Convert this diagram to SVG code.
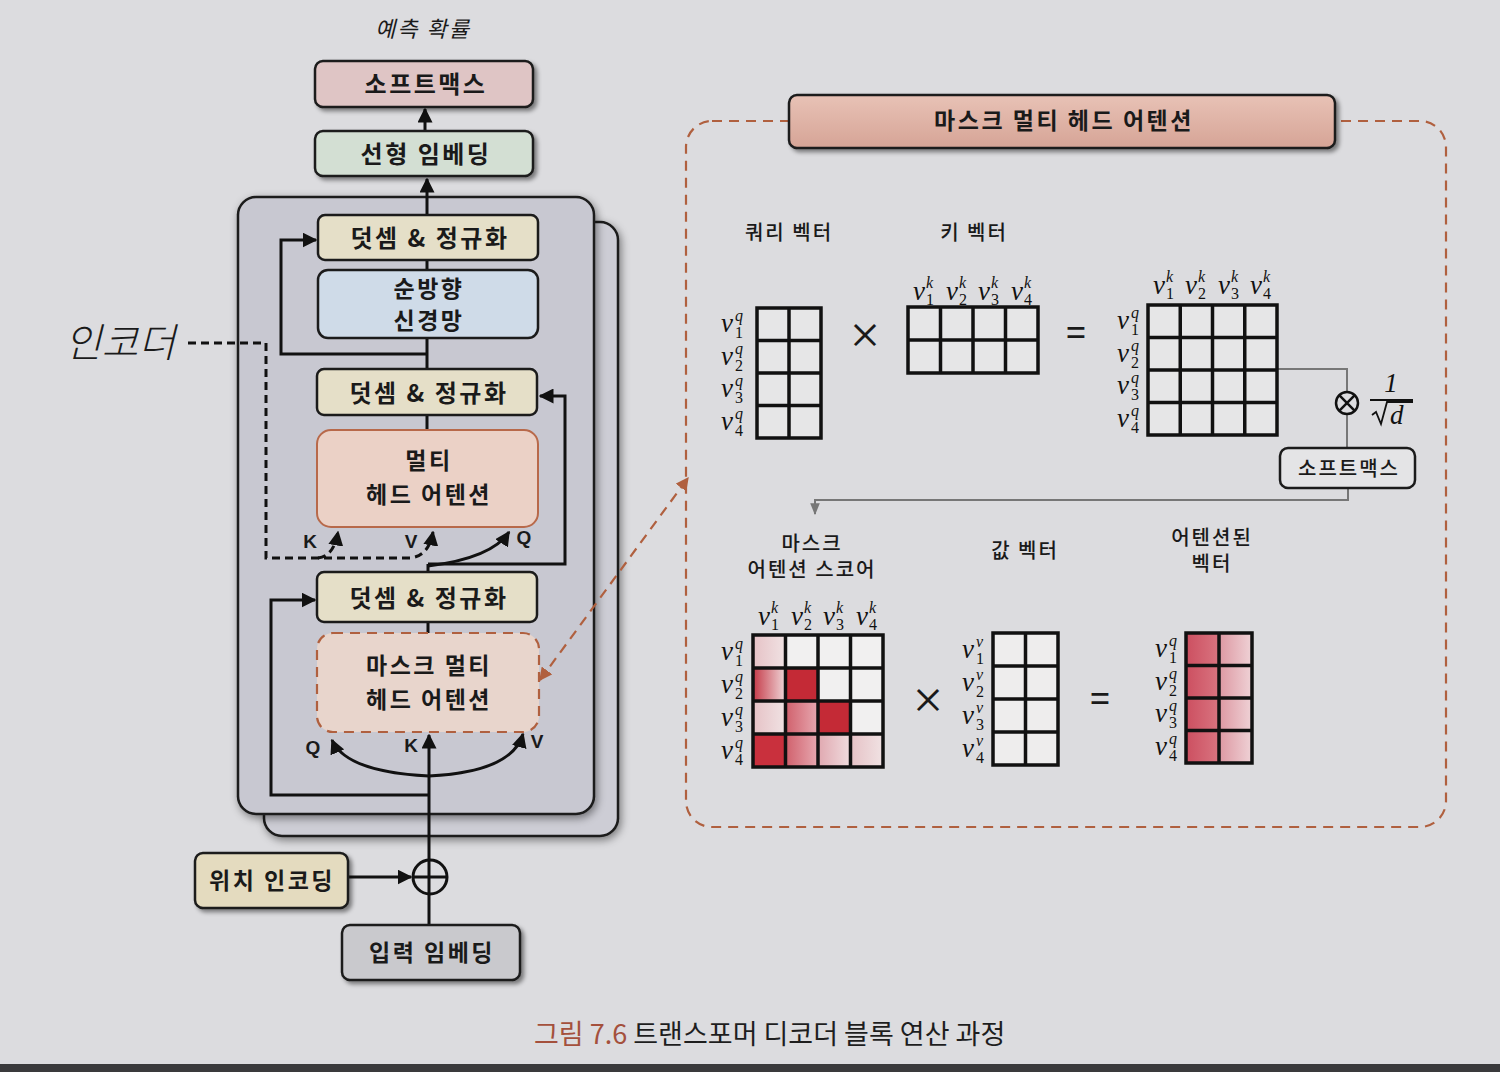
<svg xmlns="http://www.w3.org/2000/svg" width="1500" height="1072" viewBox="0 0 1500 1072">
<defs>
<style>
.kb{font-family:"Noto Sans CJK KR","Noto Sans",sans-serif;font-weight:700;fill:#1a1a1a;text-anchor:middle;letter-spacing:2.5px}
.kr{font-family:"Noto Sans CJK KR","Noto Sans",sans-serif;font-weight:500;fill:#1a1a1a;text-anchor:middle;letter-spacing:2px}
.ki{font-family:"Noto Sans CJK KR","Noto Sans",sans-serif;font-style:italic;fill:#1a1a1a;text-anchor:middle}
.lb{font-family:"Liberation Sans",Arial,sans-serif;font-weight:700;fill:#1a1a1a;font-size:19px;text-anchor:middle}
.mv{font-family:"Liberation Serif","DejaVu Serif",serif;font-style:italic;font-size:27px;fill:#111}
.ms{font-family:"Liberation Serif","DejaVu Serif",serif;font-size:16px;font-style:normal}
.mi{font-style:italic}
.box{stroke:#1b1b1b;stroke-width:2.5}
.ln{fill:none;stroke:#111;stroke-width:3}
.dl{fill:none;stroke:#111;stroke-width:3;stroke-dasharray:8 5}
.od{fill:none;stroke:#b0603f;stroke-width:2.2;stroke-dasharray:10 7}
.mx{fill:none;stroke:#111;stroke-width:3.5}
.gl{fill:none;stroke:#777;stroke-width:2}
</style>
<filter id="sh" x="-10%" y="-10%" width="130%" height="140%"><feDropShadow dx="3" dy="3" stdDeviation="2" flood-color="#000" flood-opacity="0.45"/></filter>
<filter id="psh" x="-10%" y="-10%" width="130%" height="130%"><feDropShadow dx="2" dy="3" stdDeviation="4" flood-color="#000" flood-opacity="0.45"/></filter>
<marker id="ar" viewBox="0 0 10 10" refX="9" refY="5" markerWidth="5" markerHeight="5" orient="auto-start-reverse"><path d="M0,0 L10,5 L0,10 z" fill="#111"/></marker>
<marker id="oar" viewBox="0 0 10 10" refX="9" refY="5" markerWidth="6" markerHeight="6" orient="auto-start-reverse"><path d="M0,0 L10,5 L0,10 z" fill="#b0603f"/></marker>
<marker id="gar" viewBox="0 0 10 10" refX="9" refY="5" markerWidth="6" markerHeight="6" orient="auto"><path d="M0,1 L10,5 L0,9 z" fill="#777"/></marker>
<linearGradient id="hdr" x1="0" y1="0" x2="0" y2="1"><stop offset="0" stop-color="#e8c2b6"/><stop offset="1" stop-color="#d6a496"/></linearGradient>
<linearGradient id="g1" x1="0" x2="1"><stop offset="0" stop-color="#c53a48"/><stop offset="1" stop-color="#efd6d8"/></linearGradient>
<linearGradient id="g2" x1="0" x2="1"><stop offset="0" stop-color="#d0606c"/><stop offset="1" stop-color="#e7a8b0"/></linearGradient>
<linearGradient id="g3" x1="0" x2="1"><stop offset="0" stop-color="#e0a8b0"/><stop offset="1" stop-color="#f0dcde"/></linearGradient>
<linearGradient id="g4" x1="0" x2="1"><stop offset="0" stop-color="#e6c2c6"/><stop offset="1" stop-color="#f0e2e3"/></linearGradient>
<linearGradient id="o1" x1="0" x2="1"><stop offset="0" stop-color="#cc4f60"/><stop offset="1" stop-color="#d97480"/></linearGradient>
<linearGradient id="o2" x1="0" x2="1"><stop offset="0" stop-color="#dd98a2"/><stop offset="1" stop-color="#efd2d6"/></linearGradient>
</defs>
<rect width="1500" height="1072" fill="#dcdcdf"/>
<rect x="0" y="1064" width="1500" height="8" fill="#3a3a3c"/>

<!-- left column -->
<text x="423" y="37" class="ki" font-size="22" letter-spacing="2">예측 확률</text>

<g id="stack">
<rect x="264" y="222" width="354" height="614" rx="18" fill="#cdcdd5" stroke="#1b1b1b" stroke-width="2.5" filter="url(#psh)"/>
<rect x="238" y="197" width="356" height="617" rx="18" fill="#c8c8d1" stroke="#1b1b1b" stroke-width="2.5" filter="url(#psh)"/>
</g>

<g id="connectors">
<line x1="425" y1="131" x2="425" y2="109" class="ln" marker-end="url(#ar)"/>
<line x1="427" y1="215" x2="427" y2="179" class="ln" marker-end="url(#ar)"/>
<line x1="427" y1="260" x2="427" y2="270" class="ln"/>
<line x1="427" y1="338" x2="427" y2="369" class="ln"/>
<line x1="427" y1="415" x2="427" y2="430" class="ln"/>
<line x1="428" y1="564" x2="428" y2="572" class="ln"/>
<line x1="428" y1="622" x2="428" y2="633" class="ln"/>
<path d="M427,354 H281 V240 H316" class="ln" marker-end="url(#ar)"/>
<path d="M428,564 H565 V396 H540" class="ln" marker-end="url(#ar)"/>
<path d="M428,566 Q492,558 509,532" class="ln" marker-end="url(#ar)"/>
<path d="M188,343 H266 V558 H410 Q429,556 433,532" class="dl" marker-end="url(#ar)"/>
<path d="M318,558 Q334,556 338,532" class="dl" marker-end="url(#ar)"/>
<line x1="429" y1="928" x2="429" y2="735" class="ln" marker-end="url(#ar)"/>
<path d="M429,776 Q346,772 332,740" class="ln" marker-end="url(#ar)"/>
<path d="M429,776 Q512,772 523,734" class="ln" marker-end="url(#ar)"/>
<path d="M429,795 H271 V600 H315" class="ln" marker-end="url(#ar)"/>
<line x1="348" y1="877" x2="411" y2="877" class="ln" marker-end="url(#ar)"/>
<line x1="540" y1="680" x2="688" y2="478" class="od" marker-start="url(#oar)" marker-end="url(#oar)"/>
<path d="M1277,369 H1347 V392" class="gl"/>
<line x1="1347" y1="415" x2="1347" y2="448" class="gl"/>
<path d="M1348,488 V500 H815 V514" class="gl" marker-end="url(#gar)"/>
</g>

<g id="softmax"><rect x="315" y="61" width="218" height="46" rx="8" fill="#dfc5c5" class="box" filter="url(#sh)"/><text x="426" y="93" class="kb" font-size="24" letter-spacing="4">소프트맥스</text></g>
<g id="linear"><rect x="315" y="131" width="218" height="45" rx="8" fill="#d3dfd3" class="box" filter="url(#sh)"/><text x="426" y="163" class="kb" font-size="24" letter-spacing="3">선형 임베딩</text></g>
<g id="addnorm3"><rect x="318" y="215" width="220" height="45" rx="7" fill="#e5dfc8" class="box"/><text x="430" y="247" class="kb" font-size="24">덧셈 &amp; 정규화</text></g>
<g id="ffn"><rect x="318" y="270" width="220" height="68" rx="10" fill="#cfdbe8" class="box"/><text x="429" y="297" class="kb" font-size="23" letter-spacing="1">순방향</text><text x="429" y="329" class="kb" font-size="23" letter-spacing="1">신경망</text></g>
<g id="addnorm2"><rect x="317" y="369" width="220" height="46" rx="7" fill="#e5dfc8" class="box"/><text x="429" y="402" class="kb" font-size="24">덧셈 &amp; 정규화</text></g>
<g id="mha"><rect x="317" y="430" width="221" height="97" rx="14" fill="#ebd1c6" stroke="#b8694a" stroke-width="2"/><text x="429" y="469" class="kb" font-size="23">멀티</text><text x="429" y="503" class="kb" font-size="23">헤드 어텐션</text></g>
<text x="310" y="548" class="lb">K</text><text x="411" y="548" class="lb">V</text><text x="524" y="544" class="lb">Q</text>
<g id="addnorm1"><rect x="317" y="572" width="220" height="50" rx="7" fill="#e5dfc8" class="box"/><text x="429" y="607" class="kb" font-size="24">덧셈 &amp; 정규화</text></g>
<g id="mmha"><rect x="317" y="633" width="222" height="99" rx="16" fill="#e8d5cc" stroke="#b0603f" stroke-width="2.2" stroke-dasharray="10 7"/><text x="429" y="674" class="kb" font-size="23">마스크 멀티</text><text x="429" y="708" class="kb" font-size="23">헤드 어텐션</text></g>
<text x="313" y="754" class="lb">Q</text><text x="411" y="752" class="lb">K</text><text x="537" y="748" class="lb">V</text>
<g id="plus"><circle cx="430" cy="877" r="17" fill="none" stroke="#111" stroke-width="3"/><line x1="413" y1="877" x2="447" y2="877" stroke="#111" stroke-width="3"/></g>
<g id="posenc"><rect x="195" y="853" width="153" height="55" rx="8" fill="#e4dbbf" class="box" filter="url(#sh)"/><text x="272" y="889" class="kb" font-size="23" letter-spacing="1.5">위치 인코딩</text></g>
<g id="inemb"><rect x="342" y="925" width="178" height="55" rx="8" fill="#c9c9cd" class="box" filter="url(#sh)"/><text x="432" y="961" class="kb" font-size="23" letter-spacing="2">입력 임베딩</text></g>
<g id="encoder"><text x="120" y="357" class="ki" font-size="40" font-weight="300">인코더</text></g>

<!-- right panel -->
<g id="frame"><rect x="686" y="121" width="760" height="706" rx="26" fill="none" stroke="#b0603f" stroke-width="2.2" stroke-dasharray="10 7"/></g>
<g id="header"><rect x="789" y="95" width="546" height="53" rx="8" fill="url(#hdr)" stroke="#1b1b1b" stroke-width="2.5" filter="url(#sh)"/><text x="1064" y="129" class="kb" font-size="23" letter-spacing="1">마스크 멀티 헤드 어텐션</text></g>

<text x="789" y="240" class="kr" font-size="20">쿼리 벡터</text>
<text x="974" y="240" class="kr" font-size="20">키 벡터</text>

<g id="query">
<rect x="757" y="308" width="64" height="130" fill="#e6e6e7"/>
<path d="M757,308 h64 v130 h-64 z M789,308 v130 M757,340.5 h64 M757,373 h64 M757,405.5 h64" class="mx"/>
<text x="721" y="332" class="mv">v<tspan class="ms mi" x="735" y="321">q</tspan><tspan class="ms" x="735" y="338">1</tspan></text>
<text x="721" y="365" class="mv">v<tspan class="ms mi" x="735" y="354">q</tspan><tspan class="ms" x="735" y="371">2</tspan></text>
<text x="721" y="397" class="mv">v<tspan class="ms mi" x="735" y="386">q</tspan><tspan class="ms" x="735" y="403">3</tspan></text>
<text x="721" y="430" class="mv">v<tspan class="ms mi" x="735" y="419">q</tspan><tspan class="ms" x="735" y="436">4</tspan></text>
</g>
<text x="866" y="348" class="kr" font-size="34" letter-spacing="0">×</text>
<g id="key">
<rect x="908" y="307" width="130" height="66" fill="#e6e6e7"/>
<path d="M908,307 h130 v66 h-130 z M940.5,307 v66 M973,307 v66 M1005.5,307 v66 M908,340 h130" class="mx"/>
<text x="913" y="300" class="mv">v<tspan class="ms mi" x="926" y="288">k</tspan><tspan class="ms" x="926" y="305">1</tspan></text>
<text x="946" y="300" class="mv">v<tspan class="ms mi" x="959" y="288">k</tspan><tspan class="ms" x="959" y="305">2</tspan></text>
<text x="978" y="300" class="mv">v<tspan class="ms mi" x="991" y="288">k</tspan><tspan class="ms" x="991" y="305">3</tspan></text>
<text x="1011" y="300" class="mv">v<tspan class="ms mi" x="1024" y="288">k</tspan><tspan class="ms" x="1024" y="305">4</tspan></text>
</g>
<text x="1077" y="345" class="kr" font-size="34" letter-spacing="0">=</text>
<g id="result">
<rect x="1148" y="305" width="129" height="130" fill="#e6e6e7"/>
<path d="M1148,305 h129 v130 h-129 z M1180.25,305 v130 M1212.5,305 v130 M1244.75,305 v130 M1148,337.5 h129 M1148,370 h129 M1148,402.5 h129" class="mx"/>
<text x="1153" y="294" class="mv">v<tspan class="ms mi" x="1166" y="282">k</tspan><tspan class="ms" x="1166" y="299">1</tspan></text>
<text x="1185" y="294" class="mv">v<tspan class="ms mi" x="1198" y="282">k</tspan><tspan class="ms" x="1198" y="299">2</tspan></text>
<text x="1218" y="294" class="mv">v<tspan class="ms mi" x="1231" y="282">k</tspan><tspan class="ms" x="1231" y="299">3</tspan></text>
<text x="1250" y="294" class="mv">v<tspan class="ms mi" x="1263" y="282">k</tspan><tspan class="ms" x="1263" y="299">4</tspan></text>
<text x="1117" y="329" class="mv">v<tspan class="ms mi" x="1131" y="318">q</tspan><tspan class="ms" x="1131" y="335">1</tspan></text>
<text x="1117" y="362" class="mv">v<tspan class="ms mi" x="1131" y="351">q</tspan><tspan class="ms" x="1131" y="368">2</tspan></text>
<text x="1117" y="394" class="mv">v<tspan class="ms mi" x="1131" y="383">q</tspan><tspan class="ms" x="1131" y="400">3</tspan></text>
<text x="1117" y="427" class="mv">v<tspan class="ms mi" x="1131" y="416">q</tspan><tspan class="ms" x="1131" y="433">4</tspan></text>
</g>
<g id="otimes"><circle cx="1347" cy="403" r="11" fill="none" stroke="#111" stroke-width="2.5"/><path d="M1339.2,395.2 L1354.8,410.8 M1354.8,395.2 L1339.2,410.8" stroke="#111" stroke-width="2.5"/></g>
<g id="scale">
<text x="1391" y="392" class="mv" font-style="normal" font-size="23" text-anchor="middle">1</text>
<line x1="1370" y1="400" x2="1413" y2="400" stroke="#111" stroke-width="1.8"/>
<path d="M1372,415 l4,-3 l5,12 l6,-22 h26" fill="none" stroke="#111" stroke-width="1.8"/>
<text x="1390" y="424" class="mv" font-size="25">d</text>
</g>
<g id="softmax2"><rect x="1280" y="448" width="135" height="40" rx="8" fill="#e4e4e6" stroke="#1b1b1b" stroke-width="2.5"/><text x="1349" y="476" class="kr" font-size="20" letter-spacing="2.5">소프트맥스</text></g>

<text x="812" y="551" class="kr" font-size="20">마스크</text>
<text x="812" y="577" class="kr" font-size="20">어텐션 스코어</text>
<text x="1025" y="558" class="kr" font-size="20">값 벡터</text>
<text x="1212" y="545" class="kr" font-size="20">어텐션된</text>
<text x="1212" y="571" class="kr" font-size="20">벡터</text>

<g id="score">
<rect x="753" y="635" width="130" height="132" fill="#f1f0f0"/>
<rect x="753" y="635" width="32.5" height="33" fill="url(#g4)"/>
<rect x="753" y="668" width="32.5" height="33" fill="url(#g1)"/>
<rect x="785.5" y="668" width="32.5" height="33" fill="#c42a36"/>
<rect x="753" y="701" width="32.5" height="33" fill="url(#g4)"/>
<rect x="785.5" y="701" width="32.5" height="33" fill="url(#g2)"/>
<rect x="818" y="701" width="32.5" height="33" fill="#c42a36"/>
<rect x="753" y="734" width="32.5" height="33" fill="#c9303d"/>
<rect x="785.5" y="734" width="32.5" height="33" fill="url(#g2)"/>
<rect x="818" y="734" width="32.5" height="33" fill="url(#g3)"/>
<rect x="850.5" y="734" width="32.5" height="33" fill="url(#g4)"/>
<path d="M753,635 h130 v132 h-130 z M785.5,635 v132 M818,635 v132 M850.5,635 v132 M753,668 h130 M753,701 h130 M753,734 h130" class="mx"/>
<text x="758" y="625" class="mv">v<tspan class="ms mi" x="771" y="613">k</tspan><tspan class="ms" x="771" y="630">1</tspan></text>
<text x="791" y="625" class="mv">v<tspan class="ms mi" x="804" y="613">k</tspan><tspan class="ms" x="804" y="630">2</tspan></text>
<text x="823" y="625" class="mv">v<tspan class="ms mi" x="836" y="613">k</tspan><tspan class="ms" x="836" y="630">3</tspan></text>
<text x="856" y="625" class="mv">v<tspan class="ms mi" x="869" y="613">k</tspan><tspan class="ms" x="869" y="630">4</tspan></text>
<text x="721" y="660" class="mv">v<tspan class="ms mi" x="735" y="649">q</tspan><tspan class="ms" x="735" y="666">1</tspan></text>
<text x="721" y="693" class="mv">v<tspan class="ms mi" x="735" y="682">q</tspan><tspan class="ms" x="735" y="699">2</tspan></text>
<text x="721" y="726" class="mv">v<tspan class="ms mi" x="735" y="715">q</tspan><tspan class="ms" x="735" y="732">3</tspan></text>
<text x="721" y="759" class="mv">v<tspan class="ms mi" x="735" y="748">q</tspan><tspan class="ms" x="735" y="765">4</tspan></text>
</g>
<text x="929" y="713" class="kr" font-size="34" letter-spacing="0">×</text>
<g id="value">
<rect x="993" y="633" width="65" height="132" fill="#eeeded"/>
<path d="M993,633 h65 v132 h-65 z M1025.5,633 v132 M993,666 h65 M993,699 h65 M993,732 h65" class="mx"/>
<text x="962" y="658" class="mv">v<tspan class="ms mi" x="976" y="647">v</tspan><tspan class="ms" x="976" y="664">1</tspan></text>
<text x="962" y="691" class="mv">v<tspan class="ms mi" x="976" y="680">v</tspan><tspan class="ms" x="976" y="697">2</tspan></text>
<text x="962" y="724" class="mv">v<tspan class="ms mi" x="976" y="713">v</tspan><tspan class="ms" x="976" y="730">3</tspan></text>
<text x="962" y="757" class="mv">v<tspan class="ms mi" x="976" y="746">v</tspan><tspan class="ms" x="976" y="763">4</tspan></text>
</g>
<text x="1101" y="711" class="kr" font-size="34" letter-spacing="0">=</text>
<g id="output">
<rect x="1186" y="633" width="33" height="130" fill="url(#o1)"/>
<rect x="1219" y="633" width="33" height="130" fill="url(#o2)"/>
<path d="M1186,633 h66 v130 h-66 z M1219,633 v130 M1186,665.5 h66 M1186,698 h66 M1186,730.5 h66" class="mx"/>
<text x="1155" y="657" class="mv">v<tspan class="ms mi" x="1169" y="646">q</tspan><tspan class="ms" x="1169" y="663">1</tspan></text>
<text x="1155" y="690" class="mv">v<tspan class="ms mi" x="1169" y="679">q</tspan><tspan class="ms" x="1169" y="696">2</tspan></text>
<text x="1155" y="722" class="mv">v<tspan class="ms mi" x="1169" y="711">q</tspan><tspan class="ms" x="1169" y="728">3</tspan></text>
<text x="1155" y="755" class="mv">v<tspan class="ms mi" x="1169" y="744">q</tspan><tspan class="ms" x="1169" y="761">4</tspan></text>
</g>

<text x="534" y="1044" font-family="'Noto Sans CJK KR','Noto Sans',sans-serif" font-size="27" fill="#a4503c">그림 7.6 <tspan fill="#1e1e1e">트랜스포머 디코더 블록 연산 과정</tspan></text>
</svg>
